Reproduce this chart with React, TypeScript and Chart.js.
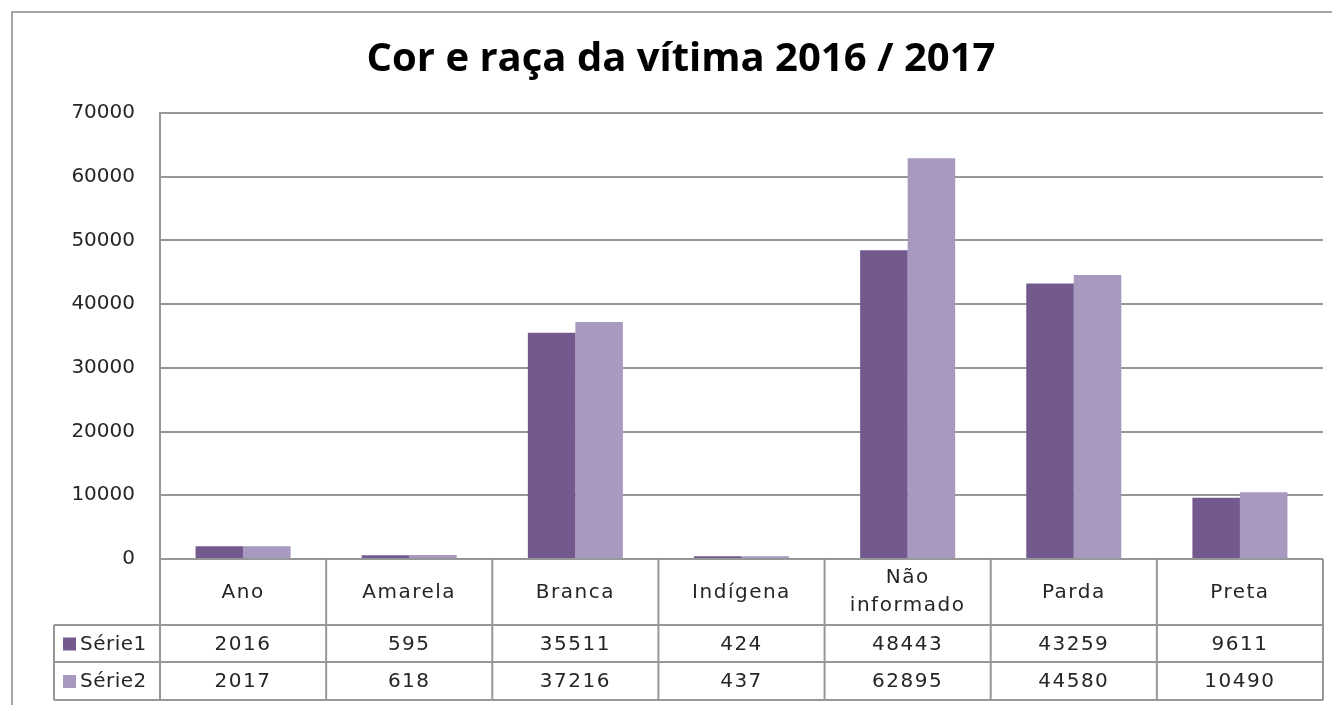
import React, { useEffect, useRef } from "react";
import { Chart, registerables } from "chart.js";

Chart.register(...registerables);

const categories = ["Ano", "Amarela", "Branca", "Indígena", "Não informado", "Parda", "Preta"];
const serie1 = [2016, 595, 35511, 424, 48443, 43259, 9611];
const serie2 = [2017, 618, 37216, 437, 62895, 44580, 10490];
const seriesNames = ["Série1", "Série2"];
const chartTitle = "Cor e raça da vítima 2016 / 2017";

const COLOR1 = "#725a8f";
const COLOR2 = "#a899c1";
const LINE = "#979797";
const TEXT = "#262626";
const FONT = "'DejaVu Sans', Verdana, sans-serif";

const decorPlugin = {
  id: "decor",
  beforeDraw(chart: any) {
    const ctx = chart.ctx;
    ctx.save();
    ctx.fillStyle = "#ffffff";
    ctx.fillRect(0, 0, chart.width, chart.height);
    ctx.strokeStyle = "#a6a6a6";
    ctx.lineWidth = 2;
    ctx.strokeRect(12, 12, chart.width + 50, chart.height + 50);
    ctx.restore();
  },
  afterDraw(chart: any) {
    const ctx = chart.ctx;
    const xs = chart.scales.x;
    const area = chart.chartArea;
    ctx.save();
    // title
    ctx.fillStyle = "#000000";
    ctx.font = "bold 40px 'Open Sans', sans-serif";
    ctx.textAlign = "center";
    ctx.textBaseline = "alphabetic";
    ctx.fillText(chartTitle, 681, 71);

    // table geometry
    const n = categories.length;
    const catW = (area.right - area.left) / n;
    const top = area.bottom;
    const r1 = top + 66;
    const r2 = r1 + 37;
    const r3 = r2 + 38;
    const legendLeft = 54;

    ctx.strokeStyle = LINE;
    ctx.lineWidth = 2;
    ctx.beginPath();
    ctx.moveTo(legendLeft, r1); ctx.lineTo(area.right, r1);
    ctx.moveTo(legendLeft, r2); ctx.lineTo(area.right, r2);
    ctx.moveTo(legendLeft, r3); ctx.lineTo(area.right, r3);
    for (let i = 0; i <= n; i++) {
      const x = area.left + i * catW;
      ctx.moveTo(x, top); ctx.lineTo(x, r3);
    }
    ctx.moveTo(legendLeft, r1); ctx.lineTo(legendLeft, r3);
    ctx.stroke();

    ctx.fillStyle = TEXT;
    ctx.font = "20px " + FONT;
    (ctx as any).letterSpacing = "1.5px";
    ctx.textAlign = "center";
    ctx.textBaseline = "middle";
    for (let i = 0; i < n; i++) {
      const cx = xs.getPixelForValue(i);
      const label = categories[i];
      if (label === "Não informado") {
        ctx.fillText("Não", cx, top + 19);
        ctx.fillText("informado", cx, top + 47);
      } else {
        ctx.fillText(label, cx, (top + r1) / 2 + 1);
      }
      ctx.fillText(String(serie1[i]), cx, (r1 + r2) / 2 + 1);
      ctx.fillText(String(serie2[i]), cx, (r2 + r3) / 2 + 1);
    }
    const rows = [(r1 + r2) / 2, (r2 + r3) / 2];
    const cols = [COLOR1, COLOR2];
    ctx.textAlign = "left";
    (ctx as any).letterSpacing = "0.5px";
    for (let k = 0; k < 2; k++) {
      ctx.fillStyle = cols[k];
      ctx.fillRect(63, rows[k] - 6, 13, 13);
      ctx.fillStyle = TEXT;
      ctx.fillText(seriesNames[k], 80, rows[k] + 1);
    }
    ctx.restore();
  },
};

export default function App() {
  const ref = useRef<HTMLCanvasElement | null>(null);
  useEffect(() => {
    document.body.style.margin = "0";
    const chart = new Chart(ref.current as HTMLCanvasElement, {
      type: "bar",
      data: {
        labels: categories,
        datasets: [
          { label: seriesNames[0], data: serie1, backgroundColor: COLOR1, borderWidth: 0 },
          { label: seriesNames[1], data: serie2, backgroundColor: COLOR2, borderWidth: 0 },
        ],
      },
      options: {
        animation: false,
        responsive: false,
        layout: { padding: { top: 113, bottom: 146, left: 0, right: 9 } },
        datasets: { bar: { categoryPercentage: 0.572, barPercentage: 1 } },
        plugins: { legend: { display: false }, title: { display: false }, tooltip: { enabled: false } },
        scales: {
          x: { display: false },
          y: {
            min: 0,
            max: 70000,
            afterFit: (s: any) => { s.width = 160; },
            ticks: {
              stepSize: 10000,
              padding: 25,
              color: TEXT,
              font: { family: FONT, size: 20 },
              callback: (v: any) => String(v),
            },
            grid: { color: LINE, lineWidth: 2, drawTicks: false },
            border: { display: true, color: LINE, width: 2 },
          },
        },
      },
      plugins: [decorPlugin],
    });
    return () => chart.destroy();
  }, []);
  return (
    <div style={{ position: "absolute", left: 0, top: 0, width: 1332, height: 705 }}>
      <canvas ref={ref} width={1332} height={705} />
    </div>
  );
}
